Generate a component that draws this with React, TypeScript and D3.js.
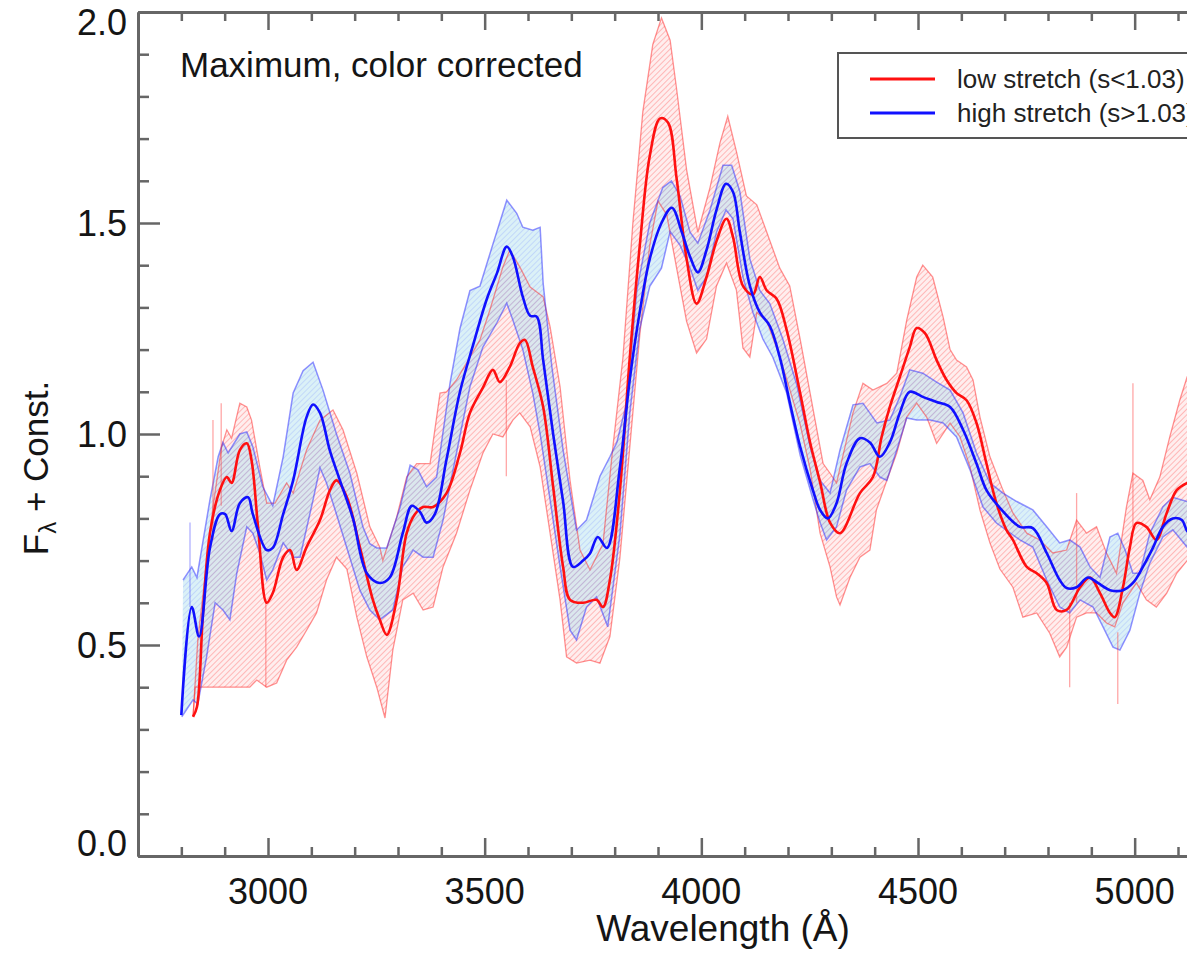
import React, { useEffect, useRef } from "react"
import * as d3 from "d3"

type Pt = [number, number]

// wavelength (Å), flux + const — low stretch sample
const redMean: Pt[] = [[2827,0.33],[2836,0.353],[2850,0.576],[2866,0.765],[2889,0.867],[2905,0.898],[2916,0.884],[2935,0.962],[2951,0.978],[2962,0.938],[2977,0.78],[2997,0.60],[3011,0.623],[3035,0.708],[3051,0.725],[3066,0.678],[3089,0.732],[3120,0.796],[3143,0.867],[3158,0.89],[3182,0.85],[3212,0.732],[3242,0.607],[3258,0.56],[3274,0.524],[3297,0.607],[3320,0.765],[3339,0.81],[3358,0.827],[3381,0.827],[3412,0.86],[3443,0.955],[3466,1.05],[3496,1.11],[3519,1.152],[3535,1.123],[3558,1.159],[3581,1.215],[3593,1.223],[3611,1.159],[3635,1.064],[3658,0.875],[3681,0.685],[3697,0.607],[3727,0.60],[3758,0.607],[3773,0.59],[3789,0.654],[3812,0.865],[3835,1.182],[3858,1.447],[3881,1.659],[3905,1.748],[3923,1.738],[3943,1.605],[3966,1.415],[3989,1.309],[4012,1.372],[4035,1.457],[4058,1.51],[4073,1.467],[4096,1.351],[4119,1.33],[4135,1.372],[4151,1.34],[4174,1.32],[4197,1.246],[4228,1.097],[4251,0.98],[4274,0.886],[4297,0.79],[4320,0.765],[4366,0.86],[4396,0.898],[4416,0.993],[4435,1.064],[4458,1.135],[4481,1.206],[4497,1.251],[4516,1.239],[4543,1.175],[4566,1.128],[4589,1.097],[4612,1.08],[4635,1.026],[4658,0.93],[4681,0.836],[4704,0.773],[4719,0.749],[4751,0.685],[4774,0.67],[4797,0.647],[4820,0.583],[4843,0.583],[4874,0.637],[4897,0.66],[4920,0.623],[4943,0.576],[4954,0.566],[4973,0.637],[4989,0.732],[5004,0.789],[5027,0.78],[5050,0.749],[5074,0.813],[5097,0.867],[5121,0.884],[5140,0.89]]

const redUpper: Pt[] = [[2827,0.33],[2838,0.512],[2873,0.827],[2893,0.97],[2905,1.01],[2916,0.99],[2935,1.073],[2951,1.064],[2962,1.033],[2981,0.922],[2997,0.836],[3016,0.836],[3043,0.884],[3058,0.86],[3089,0.962],[3120,1.033],[3150,1.057],[3173,1.01],[3205,0.907],[3235,0.78],[3258,0.732],[3265,0.70],[3297,0.803],[3320,0.898],[3343,0.93],[3374,0.93],[3397,1.097],[3412,1.10],[3435,1.128],[3458,1.168],[3489,1.223],[3512,1.294],[3542,1.396],[3558,1.436],[3581,1.396],[3605,1.348],[3635,1.325],[3651,1.254],[3674,1.112],[3697,0.89],[3720,0.725],[3743,0.678],[3773,0.74],[3796,0.97],[3819,1.18],[3842,1.50],[3865,1.764],[3888,1.923],[3908,1.986],[3928,1.933],[3943,1.817],[3966,1.626],[3992,1.478],[4020,1.584],[4043,1.69],[4061,1.753],[4081,1.669],[4104,1.564],[4128,1.543],[4151,1.478],[4181,1.393],[4204,1.351],[4228,1.225],[4251,1.097],[4281,0.93],[4297,0.907],[4312,0.884],[4350,1.05],[4373,1.12],[4396,1.104],[4428,1.12],[4451,1.144],[4474,1.27],[4497,1.372],[4511,1.40],[4534,1.372],[4558,1.277],[4574,1.2],[4589,1.175],[4612,1.159],[4627,1.128],[4643,1.04],[4666,0.946],[4696,0.867],[4719,0.813],[4751,0.765],[4781,0.749],[4811,0.718],[4843,0.725],[4866,0.796],[4889,0.765],[4912,0.78],[4935,0.718],[4958,0.67],[4981,0.827],[4996,0.907],[5019,0.89],[5035,0.844],[5058,0.898],[5081,0.993],[5104,1.08],[5121,1.135],[5140,1.18]]

const redLower: Pt[] = [[2827,0.33],[2832,0.40],[2958,0.40],[2974,0.417],[2997,0.40],[3020,0.41],[3043,0.464],[3066,0.495],[3089,0.535],[3112,0.576],[3135,0.654],[3158,0.708],[3182,0.68],[3205,0.566],[3228,0.472],[3251,0.40],[3270,0.327],[3288,0.488],[3311,0.607],[3335,0.623],[3358,0.583],[3381,0.59],[3404,0.685],[3435,0.765],[3466,0.867],[3496,0.955],[3519,1.0],[3542,0.993],[3565,1.033],[3581,1.05],[3605,1.017],[3628,0.922],[3651,0.765],[3674,0.607],[3689,0.472],[3712,0.457],[3743,0.464],[3766,0.457],[3789,0.52],[3812,0.706],[3835,0.97],[3858,1.235],[3881,1.447],[3900,1.552],[3920,1.52],[3943,1.393],[3966,1.267],[3989,1.192],[4012,1.225],[4035,1.351],[4058,1.405],[4081,1.341],[4096,1.204],[4112,1.182],[4128,1.288],[4151,1.267],[4174,1.204],[4197,1.13],[4228,1.023],[4251,0.917],[4274,0.765],[4297,0.685],[4312,0.614],[4320,0.595],[4343,0.66],[4366,0.708],[4389,0.725],[4404,0.82],[4428,0.89],[4451,0.955],[4474,1.04],[4497,1.073],[4520,1.04],[4543,0.978],[4574,1.026],[4597,0.993],[4620,0.922],[4643,0.82],[4666,0.742],[4689,0.68],[4719,0.637],[4742,0.566],[4774,0.576],[4804,0.528],[4827,0.472],[4843,0.495],[4866,0.566],[4889,0.576],[4912,0.576],[4935,0.552],[4954,0.543],[4973,0.60],[5004,0.647],[5027,0.607],[5050,0.59],[5074,0.623],[5097,0.67],[5121,0.70],[5140,0.72]]

// high stretch sample
const blueMean: Pt[] = [[2800,0.334],[2824,0.59],[2841,0.52],[2866,0.73],[2889,0.81],[2901,0.81],[2916,0.77],[2935,0.836],[2954,0.85],[2965,0.81],[2997,0.725],[3011,0.73],[3035,0.81],[3058,0.89],[3089,1.04],[3104,1.07],[3120,1.05],[3143,0.96],[3166,0.89],[3196,0.80],[3228,0.67],[3258,0.647],[3281,0.66],[3311,0.765],[3332,0.83],[3351,0.815],[3366,0.79],[3385,0.81],[3412,0.94],[3443,1.10],[3473,1.21],[3505,1.32],[3528,1.38],[3551,1.444],[3565,1.42],[3588,1.325],[3605,1.28],[3620,1.278],[3635,1.175],[3658,1.0],[3681,0.84],[3704,0.685],[3727,0.70],[3743,0.717],[3761,0.756],[3782,0.73],[3812,0.92],[3835,1.13],[3858,1.29],[3881,1.415],[3908,1.50],[3932,1.536],[3955,1.478],[3974,1.42],[3992,1.383],[4012,1.436],[4035,1.531],[4057,1.593],[4073,1.574],[4089,1.478],[4112,1.351],[4135,1.288],[4158,1.256],[4181,1.182],[4204,1.076],[4228,0.97],[4258,0.865],[4274,0.82],[4292,0.80],[4312,0.836],[4335,0.93],[4366,0.99],[4389,0.98],[4412,0.946],[4435,0.98],[4458,1.05],[4481,1.10],[4511,1.088],[4543,1.076],[4574,1.064],[4604,1.01],[4635,0.93],[4658,0.867],[4689,0.825],[4735,0.78],[4765,0.777],[4797,0.718],[4827,0.654],[4843,0.635],[4866,0.637],[4892,0.66],[4915,0.647],[4943,0.63],[4973,0.63],[4996,0.647],[5019,0.685],[5042,0.73],[5065,0.78],[5088,0.80],[5109,0.796],[5121,0.77],[5140,0.75]]

const blueUpper: Pt[] = [[2804,0.654],[2824,0.685],[2836,0.66],[2866,0.844],[2885,0.946],[2896,0.98],[2908,0.955],[2935,1.0],[2951,1.005],[2965,0.97],[2988,0.875],[3011,0.83],[3035,0.946],[3058,1.097],[3081,1.15],[3104,1.17],[3127,1.104],[3158,1.0],[3189,0.907],[3219,0.78],[3235,0.74],[3251,0.73],[3274,0.73],[3305,0.827],[3328,0.926],[3346,0.915],[3366,0.875],[3389,0.898],[3420,1.12],[3443,1.25],[3466,1.34],[3489,1.35],[3519,1.45],[3551,1.554],[3574,1.523],[3588,1.49],[3611,1.483],[3628,1.49],[3635,1.357],[3655,1.16],[3681,0.962],[3712,0.772],[3735,0.796],[3766,0.90],[3789,0.946],[3805,0.98],[3828,1.076],[3851,1.34],[3881,1.50],[3911,1.584],[3931,1.6],[3951,1.564],[3974,1.478],[3992,1.452],[4020,1.531],[4050,1.637],[4070,1.637],[4089,1.574],[4112,1.415],[4135,1.34],[4158,1.309],[4188,1.225],[4220,1.118],[4251,0.97],[4274,0.89],[4297,0.86],[4320,0.962],[4350,1.069],[4373,1.073],[4405,1.026],[4435,1.033],[4458,1.088],[4481,1.152],[4511,1.144],[4543,1.123],[4574,1.104],[4604,1.05],[4635,0.955],[4666,0.884],[4696,0.86],[4728,0.84],[4765,0.82],[4797,0.78],[4827,0.742],[4850,0.749],[4874,0.732],[4897,0.685],[4920,0.66],[4943,0.756],[4961,0.765],[4978,0.725],[4996,0.67],[5012,0.67],[5035,0.765],[5065,0.827],[5088,0.85],[5121,0.84],[5140,0.82]]

const blueLower: Pt[] = [[2801,0.33],[2827,0.37],[2838,0.36],[2858,0.47],[2878,0.60],[2896,0.583],[2912,0.56],[2928,0.67],[2951,0.78],[2965,0.765],[2981,0.718],[2997,0.654],[3011,0.678],[3035,0.742],[3058,0.708],[3074,0.708],[3104,0.844],[3120,0.92],[3135,0.884],[3158,0.81],[3182,0.73],[3212,0.63],[3235,0.583],[3258,0.56],[3288,0.583],[3311,0.685],[3335,0.725],[3358,0.708],[3381,0.708],[3404,0.796],[3435,0.955],[3466,1.112],[3496,1.206],[3528,1.263],[3551,1.31],[3565,1.27],[3588,1.2],[3611,1.097],[3628,1.0],[3651,0.844],[3674,0.685],[3697,0.535],[3712,0.512],[3735,0.59],[3758,0.614],[3784,0.543],[3812,0.76],[3835,1.05],[3858,1.25],[3881,1.35],[3908,1.393],[3928,1.48],[3951,1.447],[3974,1.393],[3992,1.34],[4012,1.372],[4035,1.478],[4057,1.531],[4073,1.51],[4096,1.372],[4119,1.288],[4142,1.225],[4165,1.182],[4197,1.097],[4228,0.95],[4258,0.844],[4274,0.79],[4289,0.749],[4312,0.78],[4335,0.867],[4366,0.922],[4389,0.93],[4412,0.898],[4428,0.89],[4451,0.962],[4474,1.038],[4497,1.033],[4528,1.033],[4558,1.026],[4589,0.993],[4620,0.915],[4650,0.827],[4681,0.789],[4735,0.749],[4765,0.732],[4797,0.654],[4827,0.59],[4850,0.576],[4874,0.607],[4904,0.59],[4927,0.543],[4950,0.495],[4966,0.488],[4989,0.535],[5012,0.623],[5035,0.694],[5065,0.756],[5088,0.773],[5121,0.732],[5140,0.72]]

// single-pixel noise spikes
const spikeWl = [2820, 2873, 2892, 2995, 3550, 4850, 4866, 4961, 4996]
const spikeLo = [0.59, 0.75, 0.83, 0.40, 0.90, 0.40, 0.60, 0.36, 0.78]
const spikeHi = [0.79, 1.033, 1.073, 0.607, 1.128, 0.60, 0.86, 0.53, 1.12]
const spikeSet = ["high", "low", "low", "low", "low", "low", "low", "low", "low"]

const xMajor = [3000, 3500, 4000, 4500, 5000]
const yMajor = [0, 0.5, 1.0, 1.5, 2.0]
const yLabels = ["0.0", "0.5", "1.0", "1.5", "2.0"]
const legendLabels = ["low stretch (s<1.03)", "high stretch (s>1.03)"]

const font = "'Liberation Sans', Arial, Helvetica, sans-serif"

const App = () => {
  const ref = useRef<SVGSVGElement>(null)

  useEffect(() => {
    const svg = d3.select(ref.current)
    svg.selectAll("*").remove()

    const x = d3.scaleLinear().domain([2700, 5400]).range([138, 1308])
    const y = d3.scaleLinear().domain([0, 2]).range([856, 12])

    const defs = svg.append("defs")
    defs.append("clipPath").attr("id", "plot-clip")
      .append("rect").attr("x", 138).attr("y", 12).attr("width", 1170).attr("height", 844)

    const hatch = (id: string, bg: string, ink: string) => {
      const p = defs.append("pattern").attr("id", id)
        .attr("patternUnits", "userSpaceOnUse")
        .attr("width", 4).attr("height", 4)
        .attr("patternTransform", "rotate(45)")
      p.append("rect").attr("width", 4).attr("height", 4).attr("fill", bg)
      p.append("line").attr("x1", 0).attr("y1", 0).attr("x2", 0).attr("y2", 4)
        .attr("stroke", ink).attr("stroke-width", 1.3)
    }
    hatch("hatch-red", "rgba(255,150,150,0.16)", "rgba(255,70,70,0.5)")
    hatch("hatch-blue", "rgba(170,222,236,0.42)", "rgba(90,110,255,0.3)")

    const line = d3.line<Pt>().x((d) => x(d[0])).y((d) => y(d[1]))
    const smooth = d3.line<Pt>().x((d) => x(d[0])).y((d) => y(d[1])).curve(d3.curveCatmullRom.alpha(0.5))
    const band = (up: Pt[], lo: Pt[]) => line(up.concat([...lo].reverse())) + "Z"

    const plot = svg.append("g").attr("clip-path", "url(#plot-clip)")

    plot.append("path").attr("d", band(redUpper, redLower)).attr("fill", "url(#hatch-red)")
    plot.append("path").attr("d", band(blueUpper, blueLower)).attr("fill", "url(#hatch-blue)")

    ;[redUpper, redLower].forEach((s) =>
      plot.append("path").attr("d", line(s)).attr("fill", "none")
        .attr("stroke", "rgba(255,40,40,0.5)").attr("stroke-width", 1.3))
    ;[blueUpper, blueLower].forEach((s) =>
      plot.append("path").attr("d", line(s)).attr("fill", "none")
        .attr("stroke", "rgba(40,40,255,0.5)").attr("stroke-width", 1.5))

    plot.selectAll("line.spike")
      .data(spikeWl)
      .enter()
      .append("line")
      .attr("x1", (d) => x(d)).attr("x2", (d) => x(d))
      .attr("y1", (d, i) => y(spikeLo[i])).attr("y2", (d, i) => y(spikeHi[i]))
      .attr("stroke", (d, i) => spikeSet[i] === "low" ? "rgba(255,60,60,0.45)" : "rgba(60,60,255,0.4)")
      .attr("stroke-width", 1.3)

    plot.append("path").attr("d", smooth(redMean)).attr("fill", "none")
      .attr("stroke", "#ff1010").attr("stroke-width", 2.6)
    plot.append("path").attr("d", smooth(blueMean)).attr("fill", "none")
      .attr("stroke", "#1010ff").attr("stroke-width", 2.6)

    // axes, ticks pointing inward
    const yMinor = d3.range(0, 2.001, 0.1).filter((v) => Math.abs(v * 2 - Math.round(v * 2)) > 1e-6)
    const xMinor = d3.range(2800, 5400, 100).filter((v) => v % 500 !== 0)

    const axes = svg.append("g")
    axes.append("g").attr("transform", "translate(138,0)")
      .call(d3.axisLeft(y).tickValues(yMinor).tickSize(-11).tickSizeOuter(0).tickFormat(() => ""))
    axes.append("g").attr("transform", "translate(138,0)")
      .call(d3.axisLeft(y).tickValues(yMajor).tickSize(-22).tickSizeOuter(0).tickFormat(() => ""))
    axes.append("g").attr("transform", "translate(0,856)")
      .call(d3.axisBottom(x).tickValues(xMinor).tickSize(-9).tickSizeOuter(0).tickFormat(() => ""))
    axes.append("g").attr("transform", "translate(0,856)")
      .call(d3.axisBottom(x).tickValues(xMajor).tickSize(-18).tickSizeOuter(0).tickFormat(() => ""))
    axes.append("g").attr("transform", "translate(0,12)")
      .call(d3.axisTop(x).tickValues(xMinor).tickSize(-9).tickSizeOuter(0).tickFormat(() => ""))
    axes.append("g").attr("transform", "translate(0,12)")
      .call(d3.axisTop(x).tickValues(xMajor).tickSize(-18).tickSizeOuter(0).tickFormat(() => ""))
    axes.selectAll(".domain").attr("stroke", "#666").attr("stroke-width", 3)
    axes.selectAll(".tick line").attr("stroke", "#666").attr("stroke-width", 2.5)

    const txt = svg.append("g").attr("font-family", font).attr("fill", "#151515")

    txt.selectAll("text.ylab")
      .data(yMajor)
      .enter()
      .append("text")
      .attr("x", 127)
      .attr("y", (d) => Math.min(843.5, Math.max(22.5, y(d))))
      .attr("dy", "0.36em")
      .attr("text-anchor", "end")
      .attr("font-size", 36)
      .text((d, i) => yLabels[i])

    txt.selectAll("text.xlab")
      .data(xMajor)
      .enter()
      .append("text")
      .attr("x", (d) => x(d))
      .attr("y", 904)
      .attr("text-anchor", "middle")
      .attr("font-size", 36)
      .text((d) => String(d))

    txt.append("text")
      .attr("x", (x(2700) + x(5400)) / 2).attr("y", 941)
      .attr("text-anchor", "middle").attr("font-size", 37)
      .text("Wavelength (Å)")

    const yt = txt.append("text")
      .attr("transform", "translate(48,468) rotate(-90)")
      .attr("text-anchor", "middle").attr("font-size", 35)
    yt.append("tspan").text("F")
    yt.append("tspan").attr("font-size", 24).attr("dy", 8).text("λ")
    yt.append("tspan").attr("dy", -8).text(" + Const.")

    txt.append("text").attr("x", 180).attr("y", 77).attr("font-size", 35)
      .text("Maximum, color corrected")

    // legend
    const lg = svg.append("g")
    lg.append("rect").attr("x", 838).attr("y", 53).attr("width", 460).attr("height", 85)
      .attr("fill", "#fff").attr("stroke", "#555").attr("stroke-width", 2)
    ;["#ff1010", "#1010ff"].forEach((c, i) => {
      lg.append("line").attr("x1", 870).attr("x2", 935)
        .attr("y1", 79 + i * 34).attr("y2", 79 + i * 34)
        .attr("stroke", c).attr("stroke-width", 3)
      lg.append("text").attr("x", 957).attr("y", 88 + i * 34)
        .attr("font-family", font).attr("font-size", 26).attr("fill", "#222")
        .text(legendLabels[i])
    })
  }, [])

  return (
    <svg
      ref={ref}
      width={1187}
      height={956}
      style={{ position: "absolute", left: 0, top: 0, background: "#fff" }}
    />
  )
}

export default App
